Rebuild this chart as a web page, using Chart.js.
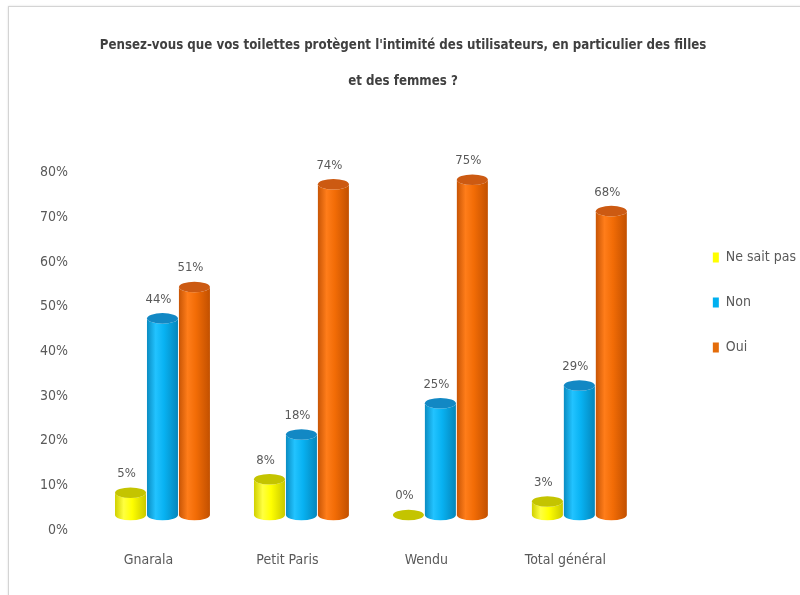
<!DOCTYPE html>
<html lang="fr">
<head>
<meta charset="utf-8">
<title>Intimité des toilettes</title>
<script src="https://cdn.jsdelivr.net/npm/chart.js@4.4.1/dist/chart.umd.min.js"></script>
<style>
  html, body { margin: 0; padding: 0; background: #ffffff; overflow: hidden; }
  #wrap { position: relative; width: 800px; height: 595px; overflow: hidden; }
  #chart { position: absolute; left: 0; top: 0; }
  #frame {
    position: absolute; left: 8px; top: 6px; width: 900px; height: 700px;
    border: 1px solid #d4d4d4; box-shadow: 0 0 2px rgba(0,0,0,0.12);
    pointer-events: none;
  }
</style>
</head>
<body>
<div id="wrap">
  <canvas id="chart" width="800" height="595"></canvas>
  <div id="frame"></div>
</div>
<script>
// Survey answers per site, in percent
const categories = ['Gnarala', 'Petit Paris', 'Wendu', 'Total général'];
const seriesNames = ['Ne sait pas', 'Non', 'Oui'];
const neSaitPas = [5, 8, 0, 3];
const non = [44, 18, 25, 29];
const oui = [51, 74, 75, 68];
const yTickValues = [0, 10, 20, 30, 40, 50, 60, 70, 80];
const titleLines = [
  "Pensez-vous que vos toilettes protègent l'intimité des utilisateurs, en particulier des filles",
  'et des femmes ?'
];

const FONT = "'Liberation Sans Narrow', 'Arial Narrow', 'DejaVu Sans Condensed', 'Liberation Sans', sans-serif";
const TEXT_GREY = '#595959';

// Colour ramps for each cylinder: edge / highlight / body / shaded side / lid
const shades = [
  { edge: '#d0d000', light: '#ffff40', body: '#ffff00', dark: '#c9c900', lid: '#c4c400', legend: '#ffff00' },
  { edge: '#0a8cc2', light: '#22c3ff', body: '#08b2f2', dark: '#0586bb', lid: '#1288c4', legend: '#00b0f0' },
  { edge: '#c85505', light: '#ff7d1a', body: '#f26c06', dark: '#c25000', lid: '#cc5a12', legend: '#e46c0a' }
];

// Oblique offset of the 3D bars relative to the floor front edge
const DEPTH_X = 14;
const DEPTH_Y = -15;

function drawCylinder(ctx, cx, top, bottom, rx, shade) {
  const ry = rx * 0.34;
  ctx.save();
  if (bottom - top > 0.5) {
    const g = ctx.createLinearGradient(cx - rx, 0, cx + rx, 0);
    g.addColorStop(0, shade.edge);
    g.addColorStop(0.28, shade.light);
    g.addColorStop(0.55, shade.body);
    g.addColorStop(1, shade.dark);
    ctx.beginPath();
    ctx.moveTo(cx - rx, top);
    ctx.lineTo(cx - rx, bottom);
    ctx.ellipse(cx, bottom, rx, ry, 0, Math.PI, 0, true);
    ctx.lineTo(cx + rx, top);
    ctx.ellipse(cx, top, rx, ry, 0, 0, Math.PI, false);
    ctx.closePath();
    ctx.fillStyle = g;
    ctx.fill();
  }
  ctx.beginPath();
  ctx.ellipse(cx, top, rx, ry, 0, 0, Math.PI * 2);
  ctx.fillStyle = shade.lid;
  ctx.fill();
  ctx.restore();
}

const cylinderPlugin = {
  id: 'cylinders',
  beforeDatasetsDraw(chart) {
    const ctx = chart.ctx;
    chart.data.datasets.forEach((ds, i) => {
      const meta = chart.getDatasetMeta(i);
      if (meta.hidden) return;
      meta.data.forEach((bar) => {
        const p = bar.getProps(['x', 'y', 'base', 'width'], true);
        drawCylinder(ctx, p.x + DEPTH_X, p.y + DEPTH_Y, p.base + DEPTH_Y, p.width / 2, shades[i]);
      });
    });
    return false;
  },
  afterDraw(chart) {
    const ctx = chart.ctx;
    ctx.save();
    ctx.font = '13px ' + FONT;
    ctx.fillStyle = TEXT_GREY;
    ctx.textAlign = 'center';
    ctx.textBaseline = 'middle';
    chart.data.datasets.forEach((ds, i) => {
      const meta = chart.getDatasetMeta(i);
      if (meta.hidden) return;
      meta.data.forEach((bar, j) => {
        const p = bar.getProps(['x', 'y'], true);
        ctx.fillText(ds.data[j] + '%', p.x + DEPTH_X - 4, p.y + DEPTH_Y - 19);
      });
    });
    ctx.restore();
  }
};

const values = [neSaitPas, non, oui];

new Chart(document.getElementById('chart'), {
  type: 'bar',
  data: {
    labels: categories,
    datasets: seriesNames.map((name, i) => ({
      label: name,
      data: values[i],
      backgroundColor: shades[i].legend,
      borderWidth: 0,
      categoryPercentage: 0.69,
      barPercentage: 0.97
    }))
  },
  options: {
    responsive: false,
    devicePixelRatio: 1,
    animation: false,
    events: [],
    layout: { padding: { top: 10, left: 0, right: -6, bottom: 0 } },
    plugins: {
      title: {
        display: true,
        text: titleLines,
        color: '#404040',
        font: { family: FONT, size: 13.2, weight: 'bold', lineHeight: 36 / 13.2 },
        padding: { top: 18, bottom: 72.5 }
      },
      legend: {
        position: 'right',
        align: 'center',
        labels: {
          color: TEXT_GREY,
          font: { family: FONT, size: 14 },
          boxWidth: 6,
          boxHeight: 10,
          padding: 31
        }
      },
      tooltip: { enabled: false }
    },
    scales: {
      x: {
        grid: { display: false, drawTicks: false },
        border: { display: false },
        ticks: { color: TEXT_GREY, font: { family: FONT, size: 14 }, padding: 22 },
        afterFit: (s) => { s.height = 65; }
      },
      y: {
        min: 0,
        max: 80,
        grid: { display: false, drawTicks: false },
        border: { display: false },
        afterBuildTicks: (s) => { s.ticks = yTickValues.map((v) => ({ value: v })); },
        ticks: {
          color: TEXT_GREY,
          font: { family: FONT, size: 14 },
          padding: 11,
          callback: (v) => v + '%'
        },
        afterFit: (s) => { s.width = 79; }
      },
      gap: {
        type: 'linear',
        position: 'right',
        grid: { display: false, drawTicks: false },
        border: { display: false },
        ticks: { display: false },
        afterFit: (s) => { s.width = 47; }
      }
    }
  },
  plugins: [cylinderPlugin]
});
</script>
</body>
</html>
